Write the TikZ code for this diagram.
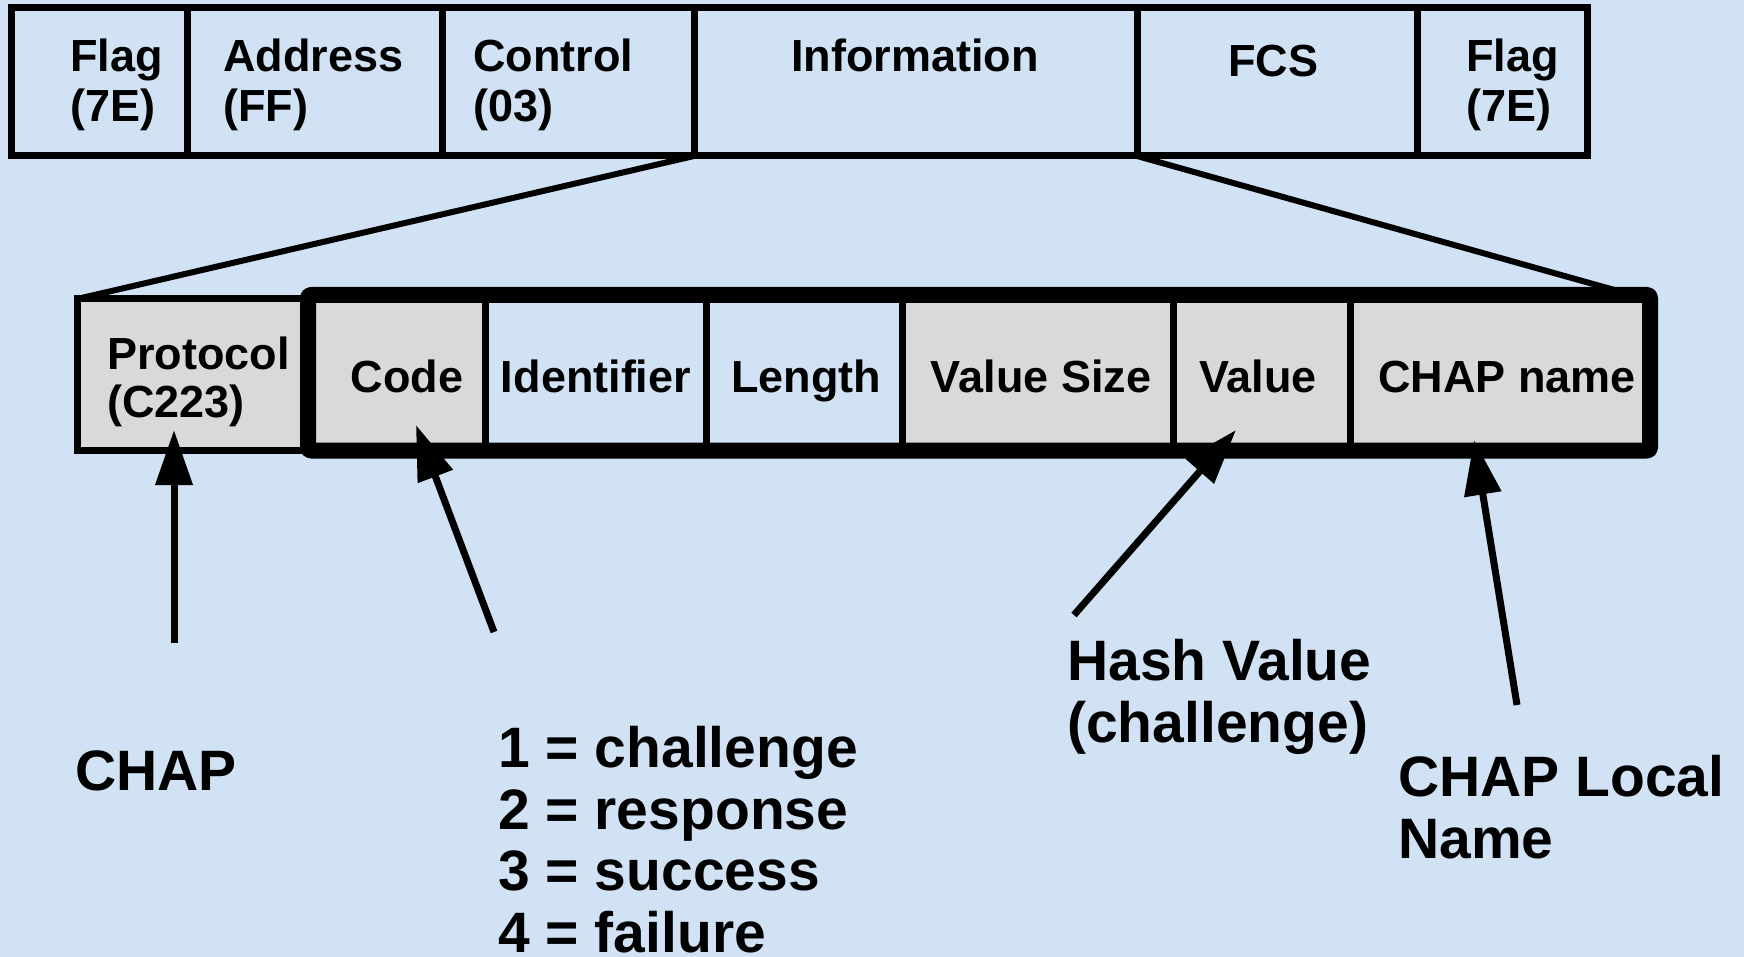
\documentclass[tikz,border=0pt]{standalone}
\usepackage{fontspec}
\setmainfont{Liberation Sans}
\usetikzlibrary{arrows.meta}
\definecolor{bgblue}{RGB}{208,226,244}
\definecolor{cellgray}{RGB}{217,217,217}
\begin{document}
\begin{tikzpicture}[x=1pt,y=-1pt,
  frame/.style={draw=black, line width=7pt, rectangle, inner sep=0pt, outer sep=0pt},
  toptext/.style={font=\fontsize{45}{50}\selectfont\bfseries, inner sep=0pt, align=left},
  celltext/.style={font=\fontsize{45}{50}\selectfont\bfseries, inner sep=0pt, anchor=base},
  bigtext/.style={font=\fontsize{57}{61.5}\selectfont\bfseries, inner sep=0pt, align=left, anchor=base west},
  link/.style={line width=6pt, line cap=round},
  pointer/.style={line width=7pt, -{Triangle[length=55pt,width=36pt]}},
]
\useasboundingbox (0,0) rectangle (1744,957);
\fill[bgblue] (0,0) rectangle (1744,957);

% ---- top frame (PPP/HDLC frame) ----
\node[frame, minimum width=175.5pt, minimum height=148pt] (flagA) at (99.25,82) {};
\node[frame, minimum width=255pt, minimum height=148pt] (addr) at (314.5,82) {};
\node[frame, minimum width=252pt, minimum height=148pt] (ctrl) at (568,82) {};
\node[frame, minimum width=443pt, minimum height=148pt] (info) at (915.5,82) {};
\node[frame, minimum width=280pt, minimum height=148pt] (fcs) at (1277,82) {};
\node[frame, minimum width=170pt, minimum height=148pt] (flagB) at (1502,82) {};

% multi-line nodes: base anchor = baseline of the last line
\node[toptext, anchor=base west] (tFlagA) at (70,122) {Flag\\(7E)};
\node[toptext, anchor=base west] (tAddr) at (223,122) {Address\\(FF)};
\node[toptext, anchor=base west] (tCtrl) at (473,122) {Control\\(03)};
\node[celltext] (tInfo) at (915,72) {Information};
\node[celltext] (tFcs) at (1273,77) {FCS};
\node[toptext, anchor=base west] (tFlagB) at (1466,122) {Flag\\(7E)};

% ---- CHAP packet ----
\node[frame, fill=cellgray, minimum width=231pt, minimum height=151pt] (proto) at (192.5,374.5) {};
\node[rectangle, fill=cellgray, draw=black, line width=7pt, inner sep=0pt, minimum width=177pt, minimum height=155.5pt] (code) at (396.5,372.75) {};
\node[rectangle, draw=black, line width=7pt, inner sep=0pt, minimum width=221pt, minimum height=155.5pt] (ident) at (595.5,372.75) {};
\node[rectangle, draw=black, line width=7pt, inner sep=0pt, minimum width=196pt, minimum height=155.5pt] (len) at (804,372.75) {};
\node[rectangle, fill=cellgray, draw=black, line width=7pt, inner sep=0pt, minimum width=271pt, minimum height=155.5pt] (vsize) at (1037.5,372.75) {};
\node[rectangle, fill=cellgray, draw=black, line width=7pt, inner sep=0pt, minimum width=177pt, minimum height=155.5pt] (val) at (1261.5,372.75) {};
\node[rectangle, fill=cellgray, draw=black, line width=7pt, inner sep=0pt, minimum width=300pt, minimum height=155.5pt] (cname) at (1500,372.75) {};
\node[rectangle, draw=black, line width=16pt, line join=round, rounded corners=3pt, inner sep=0pt, minimum width=1342pt, minimum height=155.5pt] (chapbox) at (979,372.75) {};

\node[toptext, anchor=base west, font=\fontsize{45}{48}\selectfont\bfseries] (tProto) at (107,417) {Protocol\\(C223)};
\node[celltext] (tCode) at (407,392) {Code};
\node[celltext] (tIdent) at (596,392) {Identifier};
\node[celltext] (tLen) at (806,392) {Length};
\node[celltext] (tVsize) at (1041,392) {Value Size};
\node[celltext] (tVal) at (1258,392) {Value};
\node[celltext] (tCname) at (1507,392) {CHAP name};

% ---- expansion lines ----
\coordinate (chapR) at (1618,291);
\draw[link] (info.south west) -- (proto.north west);
\draw[link] (fcs.south west) -- (chapR);

% ---- annotations ----
\node[bigtext] (lChap) at (75,790) {CHAP};
\node[bigtext] (lCodes) at (498,952) {1 = challenge\\2 = response\\3 = success\\4 = failure};
\node[bigtext] (lHash) at (1067,742) {Hash Value\\(challenge)};
\node[bigtext] (lLocal) at (1398,858) {CHAP Local\\Name};

\coordinate (tailA) at (174,643);  \coordinate (tipA) at (174,430);
\coordinate (tailB) at (494,632);  \coordinate (tipB) at (416,425);
\coordinate (tailC) at (1074,615); \coordinate (tipC) at (1236,430);
\coordinate (tailD) at (1517,705); \coordinate (tipD) at (1474,440);
\draw[pointer] (tailA) -- (tipA);
\draw[pointer] (tailB) -- (tipB);
\draw[pointer] (tailC) -- (tipC);
\draw[pointer] (tailD) -- (tipD);
\end{tikzpicture}
\end{document}
